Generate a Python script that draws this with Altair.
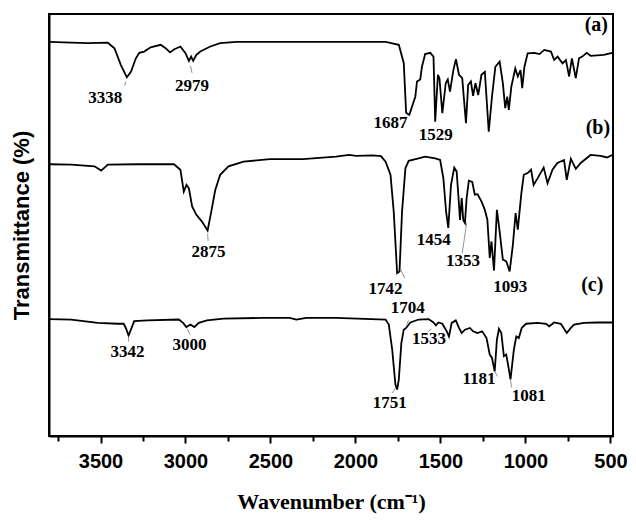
import altair as alt
import pandas as pd

# ---- spectrum (a)
wn_a = [3800, 3672, 3574, 3457, 3418, 3380, 3345, 3321, 3292, 3272, 3243, 3205, 3146, 3117, 3091, 3068, 3030, 3000, 2980, 2967, 2955, 2936, 2913, 2854, 2796, 2699, 2504, 1998, 1823, 1745, 1716, 1702, 1683, 1667, 1648, 1638, 1619, 1609, 1590, 1560, 1541, 1531, 1515, 1506, 1489, 1469, 1457, 1444, 1424, 1409, 1391, 1372, 1350, 1337, 1321, 1308, 1294, 1278, 1259, 1239, 1216, 1197, 1177, 1152, 1133, 1119, 1107, 1098, 1083, 1060, 1045, 1029, 1019, 1006, 987, 947, 918, 889, 850, 831, 811, 782, 762, 743, 727, 704, 685, 666, 640, 617, 539, 490]
t_a = [93.4, 93.2, 93.1, 93.2, 91.9, 87.9, 85.0, 86.3, 89.5, 90.8, 91.1, 92.1, 92.7, 91.9, 90.9, 91.6, 92.3, 90.7, 88.9, 89.9, 88.9, 90.3, 91.1, 92.3, 93.1, 93.4, 93.4, 93.4, 93.4, 92.7, 88.4, 76.6, 76.1, 78.1, 80.4, 84.0, 84.5, 87.5, 90.5, 90.8, 89.9, 74.5, 85.6, 84.8, 76.5, 83.6, 84.5, 81.6, 86.7, 89.3, 85.6, 84.8, 74.1, 83.2, 84.0, 80.6, 83.6, 80.8, 85.6, 86.3, 72.1, 80.4, 87.5, 88.7, 83.6, 77.7, 80.4, 77.3, 82.8, 87.1, 85.2, 86.7, 82.4, 87.5, 90.7, 90.8, 90.5, 91.5, 91.1, 89.1, 89.9, 88.3, 89.1, 85.2, 89.5, 84.8, 89.5, 89.9, 90.8, 90.1, 90.3, 90.8]

# ---- spectrum (b)
wn_b = [3800, 3672, 3535, 3496, 3457, 3282, 3068, 3030, 3010, 2994, 2980, 2961, 2936, 2903, 2870, 2850, 2825, 2796, 2747, 2659, 2504, 2309, 2115, 2037, 1998, 1900, 1850, 1823, 1794, 1775, 1755, 1741, 1726, 1706, 1687, 1629, 1590, 1531, 1502, 1483, 1467, 1454, 1438, 1419, 1405, 1395, 1385, 1375, 1366, 1356, 1346, 1333, 1313, 1298, 1282, 1259, 1239, 1224, 1210, 1200, 1185, 1168, 1152, 1133, 1113, 1093, 1074, 1058, 1045, 1025, 1010, 987, 967, 952, 928, 893, 870, 841, 812, 773, 757, 733, 704, 675, 617, 558, 520, 490]
t_b = [64.4, 64.3, 63.9, 62.9, 64.3, 64.4, 64.4, 63.1, 57.9, 59.5, 58.7, 54.4, 52.4, 50.8, 48.7, 52.8, 58.3, 61.9, 63.9, 65.0, 65.6, 65.6, 66.2, 66.6, 66.4, 66.5, 66.3, 65.0, 61.9, 53.2, 38.6, 39.0, 53.2, 63.5, 65.2, 65.8, 66.2, 65.8, 65.4, 61.1, 53.2, 49.3, 59.5, 63.6, 62.7, 57.2, 51.2, 56.4, 51.2, 50.5, 56.4, 60.5, 60.2, 57.2, 57.3, 55.6, 53.6, 51.2, 42.2, 46.1, 39.2, 53.6, 48.5, 41.8, 41.4, 39.0, 45.3, 52.8, 48.9, 57.2, 61.9, 62.3, 63.1, 59.5, 61.1, 63.6, 59.9, 63.1, 64.7, 65.4, 60.7, 65.7, 63.3, 64.7, 66.6, 66.4, 66.0, 66.6]

# ---- spectrum (c)
wn_c = [3800, 3672, 3516, 3399, 3364, 3351, 3335, 3321, 3302, 3224, 3039, 3014, 2995, 2971, 2948, 2922, 2874, 2776, 2543, 2387, 2348, 2289, 2115, 1823, 1804, 1784, 1765, 1755, 1745, 1730, 1716, 1702, 1691, 1677, 1629, 1570, 1541, 1527, 1512, 1489, 1463, 1450, 1434, 1410, 1391, 1375, 1356, 1327, 1308, 1282, 1255, 1229, 1210, 1197, 1181, 1168, 1156, 1142, 1127, 1113, 1099, 1088, 1068, 1054, 1039, 1022, 996, 928, 879, 860, 831, 792, 757, 733, 714, 656, 578, 490]
t_c = [27.7, 27.6, 26.8, 26.6, 26.6, 25.6, 23.8, 25.2, 27.2, 27.4, 27.6, 26.8, 25.8, 26.4, 25.8, 26.8, 27.4, 27.8, 28.0, 28.0, 27.6, 28.0, 28.0, 27.6, 26.4, 20.5, 12.2, 11.0, 13.4, 22.1, 25.2, 25.6, 26.2, 26.9, 27.6, 27.7, 26.9, 26.2, 26.9, 26.6, 24.8, 23.6, 26.8, 27.4, 25.6, 24.4, 25.2, 25.6, 24.8, 24.4, 24.8, 23.2, 19.3, 18.5, 15.3, 22.8, 25.4, 24.4, 18.9, 19.3, 16.1, 13.4, 20.5, 23.6, 23.2, 25.6, 26.6, 26.8, 26.6, 26.0, 26.9, 26.6, 24.4, 25.6, 26.4, 26.8, 26.9, 26.9]

# ---- peak labels
lbl_text = ["3338", "2979", "1687", "1529", "2875", "1454", "1353", "1742", "1093", "1704", "1533", "1751", "1181", "1081", "3342", "3000"]
lbl_x = [3472, 2961, 1794, 1528, 2864, 1539, 1368, 1823, 1089, 1692, 1567, 1798, 1273, 981, 3341, 2977]
lbl_y = [80.2, 83.0, 74.1, 71.4, 43.6, 46.5, 41.4, 34.9, 35.3, 30.3, 23.1, 7.9, 13.4, 9.4, 19.9, 21.5]

# ---- panel tags
tag_text = ["(a)", "(b)", "(c)"]
tag_x = [583, 574, 607]
tag_y = [97.4, 73.1, 35.7]

# ---- leader lines
ld_x1 = [3351, 2971, 2870, 1346, 1736, 1700, 1554, 1764, 1181, 1088, 3335, 2990]
ld_y1 = [84.0, 87.7, 47.9, 50.5, 39.6, 26.4, 25.4, 11.4, 15.3, 13.4, 23.6, 25.4]
ld_x2 = [3357, 2961, 2867, 1372, 1710, 1687, 1572, 1784, 1163, 1082, 3335, 2973]
ld_y2 = [83.0, 86.0, 46.2, 43.3, 37.4, 27.4, 24.7, 10.2, 14.1, 11.5, 22.4, 24.0]

x_ticks = [3750, 3500, 3250, 3000, 2750, 2500, 2250, 2000, 1750, 1500, 1250, 1000, 750, 500]

rows = []
for name, wn, t in [("a", wn_a, t_a), ("b", wn_b, t_b), ("c", wn_c, t_c)]:
    for i, (w, v) in enumerate(zip(wn, t)):
        rows.append({"series": name, "wn": w, "T": v, "order": i})
df = pd.DataFrame(rows)
df_lbl = pd.DataFrame({"text": lbl_text, "wn": lbl_x, "T": lbl_y})
df_tag = pd.DataFrame({"text": tag_text, "wn": tag_x, "T": tag_y})
df_ld = pd.DataFrame({"x1": ld_x1, "y1": ld_y1, "x2": ld_x2, "y2": ld_y2})

xscale = alt.Scale(domain=[3803, 485], nice=False, zero=False)
yscale = alt.Scale(domain=[0, 100], nice=False, zero=False)

x_axis = alt.Axis(
    values=x_ticks, format="d",
    labelExpr="datum.value % 500 === 0 ? datum.label : ''",
    tickSize={"condition": {"test": "datum.value % 500 === 0", "value": 7}, "value": 5},
    labelFont="Liberation Sans", labelFontWeight="bold", labelFontSize=20,
    labelPadding=8, labelColor="black",
    title="Wavenumber (cm\u207b\u00b9)", titleFont="Liberation Serif",
    titleFontWeight="bold", titleFontSize=22, titleColor="black",
    titleBaseline="alphabetic", titleY=72,
    domainColor="black", domainWidth=2, tickColor="black", tickWidth=2, grid=False,
)
y_axis = alt.Axis(
    labels=False, ticks=False, grid=False,
    title="Transmittance (%)", titleFont="Liberation Sans", titleFontWeight="bold",
    titleFontSize=22, titlePadding=16, titleColor="black",
    domainColor="black", domainWidth=2,
)

lines = alt.Chart(df).mark_line(color="black", strokeWidth=1.8).encode(
    x=alt.X("wn:Q", scale=xscale, axis=x_axis),
    y=alt.Y("T:Q", scale=yscale, axis=y_axis),
    detail="series:N",
    order="order:Q",
)

leaders = alt.Chart(df_ld).mark_rule(color="#777777", strokeWidth=0.8).encode(
    x=alt.X("x1:Q", scale=xscale), x2="x2:Q",
    y=alt.Y("y1:Q", scale=yscale), y2="y2:Q",
)

labels = alt.Chart(df_lbl).mark_text(
    font="Liberation Serif", fontWeight="bold", fontSize=17,
    align="center", baseline="middle", color="black",
).encode(x=alt.X("wn:Q", scale=xscale), y=alt.Y("T:Q", scale=yscale), text="text:N")

tags = alt.Chart(df_tag).mark_text(
    font="Liberation Serif", fontWeight="bold", fontSize=20,
    align="center", baseline="middle", color="black",
).encode(x=alt.X("wn:Q", scale=xscale), y=alt.Y("T:Q", scale=yscale), text="text:N")

chart = alt.layer(lines, leaders, labels, tags).properties(
    width=564, height=422,
    autosize=alt.AutoSizeParams(type="none"),
    padding={"left": 41, "top": 6, "right": 15, "bottom": 78},
    background="white",
).configure_view(stroke="black", strokeWidth=2)

chart.save("out.html", embed_options={"renderer": "svg", "actions": False})
